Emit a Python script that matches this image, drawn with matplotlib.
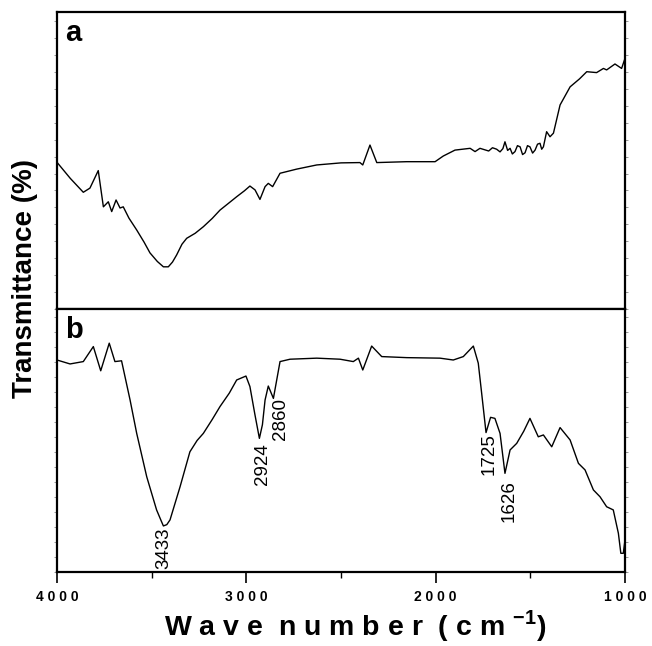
import matplotlib
matplotlib.use("Agg")
import matplotlib.pyplot as plt
from matplotlib.ticker import FixedLocator, MultipleLocator, NullFormatter

plt.rcParams['font.family'] = ['Liberation Sans', 'DejaVu Sans']
plt.rcParams['mathtext.fontset'] = 'custom'
plt.rcParams['mathtext.rm'] = 'Liberation Sans:bold'
plt.rcParams['mathtext.bf'] = 'Liberation Sans:bold'

# ---- data ----
wn_a = [4000, 3930, 3861, 3826, 3782, 3755, 3729, 3711, 3688, 3667, 3650, 3620, 3579,
        3540, 3509, 3470, 3438, 3412, 3390, 3368, 3340, 3315, 3270, 3227, 3180, 3139,
        3090, 3051, 3010, 2981, 2954, 2928, 2901, 2884, 2861, 2822, 2734, 2628, 2500,
        2400, 2385, 2347, 2311, 2153, 2003, 1960, 1898, 1818, 1792, 1766, 1720, 1700,
        1678, 1660, 1645, 1634, 1620, 1607, 1595, 1581, 1568, 1554, 1541, 1528, 1515,
        1502, 1488, 1475, 1462, 1449, 1440, 1431, 1414, 1396, 1378, 1343, 1290, 1240,
        1202, 1150, 1114, 1097, 1053, 1018, 1000]
t_a = [49.4, 44.0, 39.3, 40.7, 46.6, 34.4, 36.1, 32.8, 36.7, 34.0, 34.4, 30.6, 26.6,
       22.5, 18.9, 16.0, 14.2, 14.2, 15.8, 18.2, 21.8, 23.8, 25.5, 27.7, 30.5, 33.3,
       35.8, 37.8, 39.8, 41.4, 40.1, 36.9, 41.2, 42.3, 41.2, 45.7, 47.1, 48.5, 49.2,
       49.3, 48.5, 55.2, 49.3, 49.6, 49.6, 51.5, 53.5, 54.1, 53.0, 54.1, 53.2, 54.3,
       53.8, 52.9, 54.0, 56.3, 53.4, 54.1, 52.2, 53.0, 55.0, 54.6, 52.0, 52.6, 55.0,
       54.6, 52.5, 53.5, 55.5, 55.8, 53.8, 54.6, 59.7, 58.0, 59.2, 68.7, 74.8, 77.5,
       79.9, 79.6, 81.0, 80.5, 82.5, 81.0, 84.4]

wn_b = [4000, 3931, 3861, 3808, 3769, 3724, 3694, 3659, 3614, 3579, 3526, 3474,
        3450, 3438, 3420, 3403, 3350, 3298, 3260, 3227, 3180, 3139, 3090, 3051, 3002,
        2981, 2955, 2931, 2915, 2901, 2884, 2857, 2822, 2769, 2628, 2505, 2435, 2408,
        2385, 2338, 2285, 2153, 1977, 1907, 1854, 1801, 1775, 1757, 1734, 1710, 1687,
        1660, 1634, 1607, 1572, 1535, 1502, 1458, 1431, 1387, 1343, 1290, 1246, 1211,
        1167, 1132, 1097, 1062, 1035, 1022, 1009, 1000]
t_b = [80.6, 79.1, 80.0, 85.7, 76.5, 87.0, 80.0, 80.3, 65.4, 52.7, 36.2, 23.6,
       19.5, 17.5, 18.0, 19.8, 32.4, 45.7, 50.0, 52.7, 58.0, 62.9, 68.0, 73.0, 74.5,
       70.5, 60.0, 50.8, 56.0, 65.4, 70.7, 66.0, 80.0, 80.9, 81.3, 80.9, 80.0, 81.3,
       76.8, 85.9, 81.9, 81.5, 81.3, 80.6, 81.9, 85.9, 79.4, 67.9, 53.0, 58.8, 58.4,
       52.7, 37.5, 46.4, 48.9, 53.5, 58.4, 51.4, 52.1, 47.6, 54.9, 50.2, 41.3, 38.8,
       31.2, 28.6, 24.8, 23.6, 14.7, 7.1, 7.1, 12.2]

peak_labels = ['3433', '2924', '2860', '1725', '1626']
peak_x = [3433, 2917, 2817, 1716, 1610]
peak_y = [17.0, 49.0, 66.2, 52.9, 35.0]

x_ticks = [4000, 3000, 2000, 1000]
x_tick_labels = ['4 0 0 0', '3 0 0 0', '2 0 0 0', '1 0 0 0']
panel_names = ['a', 'b']

# ---- figure ----
fig = plt.figure(figsize=(6.52, 6.46), dpi=100)
left, right = 0.0874, 0.9586
top, mid, bottom = 0.9814, 0.5217, 0.1146
ax_a = fig.add_axes([left, mid, right - left, top - mid])
ax_b = fig.add_axes([left, bottom, right - left, mid - bottom], sharex=ax_a)

for ax, wn, t, name in [(ax_a, wn_a, t_a, panel_names[0]), (ax_b, wn_b, t_b, panel_names[1])]:
    ax.plot(wn, t, color='black', lw=1.0)
    ax.set_ylim(0, 100)
    ax.set_yticks([])
    ax.yaxis.set_minor_locator(MultipleLocator(5.7))
    ax.yaxis.set_minor_formatter(NullFormatter())
    ax.tick_params(axis='y', which='minor', left=True, right=True, direction='out',
                   length=2, width=0.6, color='#888888')
    for s in ax.spines.values():
        s.set_linewidth(1.6)
    ax.text(0.015, 0.975, name, transform=ax.transAxes, fontsize=21,
            fontweight='bold', ha='left', va='top')

ax_a.set_xlim(4000, 1000)
ax_a.tick_params(axis='x', which='both', bottom=False, labelbottom=False)

ax_b.xaxis.set_major_locator(FixedLocator(x_ticks))
ax_b.set_xticklabels(x_tick_labels, fontsize=10, fontweight='bold')
ax_b.xaxis.set_minor_locator(MultipleLocator(500))
ax_b.tick_params(axis='x', which='major', direction='out', length=8, width=1.2, pad=5)
ax_b.tick_params(axis='x', which='minor', direction='out', length=4, width=1.0)

for lab, x, y in zip(peak_labels, peak_x, peak_y):
    ax_b.text(x, y, lab, rotation=90, ha='center', va='top', fontsize=13.5)

fig.text(0.545, 0.017,
         'W a v e  n u m b e r  ( c m $^{-1}$)',
         ha='center', va='baseline', fontsize=20.5, fontweight='bold')
fig.text(0.018, 1 - 279 / 646, 'Transmittance (%)', rotation=90,
         ha='left', va='center', fontsize=20, fontweight='bold')

fig.savefig('out.png', dpi=100)
